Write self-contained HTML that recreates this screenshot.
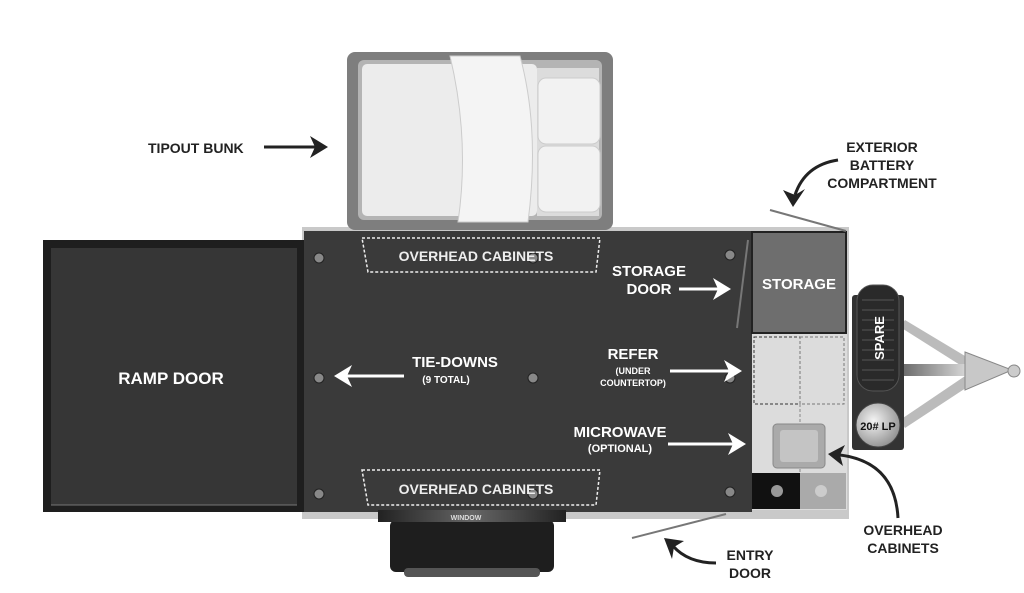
<!DOCTYPE html>
<html><head><meta charset="utf-8"><style>
html,body{margin:0;padding:0;background:#fff;width:1024px;height:593px;overflow:hidden}
svg{display:block}
text{font-family:"Liberation Sans",Arial,sans-serif;font-weight:bold}
</style></head><body>
<svg width="1024" height="593" viewBox="0 0 1024 593" xmlns="http://www.w3.org/2000/svg">
<defs>
<linearGradient id="tongue" x1="0" y1="0" x2="1" y2="0"><stop offset="0" stop-color="#666"/><stop offset="1" stop-color="#ddd"/></linearGradient>
<radialGradient id="lp" cx="0.4" cy="0.4" r="0.7"><stop offset="0" stop-color="#f4f4f4"/><stop offset="1" stop-color="#888"/></radialGradient>
<linearGradient id="win" x1="0" y1="0" x2="1" y2="0"><stop offset="0" stop-color="#222"/><stop offset="0.5" stop-color="#666"/><stop offset="1" stop-color="#222"/></linearGradient>
</defs>

<!-- tongue -->
<polygon points="900,327 905,320 975,362 968,370" fill="#bbb"/>
<polygon points="900,420 905,428 975,382 968,374" fill="#bbb"/>
<rect x="900" y="364" width="70" height="12" fill="url(#tongue)"/>
<polygon points="965,352 1012,370 965,390" fill="#c8c8c8" stroke="#888"/>
<circle cx="1014" cy="371" r="6" fill="#ccc" stroke="#888"/>

<!-- spare/LP frame -->
<rect x="852" y="295" width="52" height="155" rx="3" fill="#333"/>
<rect x="857" y="285" width="42" height="106" rx="16" fill="#2a2a2a" stroke="#555"/>
<g stroke="#555" stroke-width="1">
<line x1="862" y1="300" x2="894" y2="300"/><line x1="862" y1="310" x2="894" y2="310"/><line x1="862" y1="320" x2="894" y2="320"/><line x1="862" y1="330" x2="894" y2="330"/><line x1="862" y1="340" x2="894" y2="340"/><line x1="862" y1="350" x2="894" y2="350"/><line x1="862" y1="360" x2="894" y2="360"/><line x1="862" y1="370" x2="894" y2="370"/><line x1="862" y1="380" x2="894" y2="380"/>
</g>
<text x="884" y="338" fill="#fff" font-size="13" text-anchor="middle" transform="rotate(-90 884 338)">SPARE</text>
<circle cx="878" cy="425" r="22" fill="url(#lp)" stroke="#444"/>
<text x="878" y="430" fill="#111" font-size="11" text-anchor="middle">20# LP</text>

<!-- wheel bottom -->
<rect x="390" y="520" width="164" height="52" rx="6" fill="#1e1e1e"/>
<rect x="404" y="568" width="136" height="9" rx="4" fill="#555"/>

<!-- body frame -->
<rect x="302" y="227" width="547" height="292" fill="#c9c9c9"/>
<rect x="304" y="231" width="448" height="281" fill="#3a3a3a"/>
<rect x="378" y="510" width="188" height="12" fill="url(#win)"/>
<text x="466" y="520" fill="#ddd" font-size="7" text-anchor="middle">WINDOW</text>
<!-- ramp -->
<rect x="43" y="240" width="261" height="272" fill="#1e1e1e"/>
<rect x="51" y="248" width="246" height="257" fill="#363636"/>
<line x1="51" y1="505" x2="297" y2="505" stroke="#777" stroke-width="1"/>

<!-- bunk -->
<rect x="347" y="52" width="266" height="178" rx="8" fill="#7e7e7e"/>
<rect x="358" y="60" width="244" height="160" rx="6" fill="#b4b4b4"/>
<rect x="362" y="64" width="175" height="152" rx="5" fill="#ececec"/>
<rect x="537" y="68" width="62" height="148" fill="#dcdcdc"/>
<path d="M450,56 L520,56 Q540,130 528,222 L458,222 Q470,140 450,56Z" fill="#f4f4f4" stroke="#ccc"/>
<rect x="538" y="78" width="62" height="66" rx="8" fill="#f2f2f2" stroke="#ccc"/>
<rect x="538" y="146" width="62" height="66" rx="8" fill="#f2f2f2" stroke="#ccc"/>

<!-- tie-down dots -->
<g fill="#888" stroke="#222">
<circle cx="319" cy="258" r="5"/><circle cx="319" cy="378" r="5"/><circle cx="319" cy="494" r="5"/>
<circle cx="533" cy="258" r="5"/><circle cx="533" cy="378" r="5"/><circle cx="533" cy="494" r="5"/>
<circle cx="730" cy="255" r="5"/><circle cx="730" cy="378" r="5"/><circle cx="730" cy="492" r="5"/>
</g>

<!-- overhead cabinets -->
<polygon points="362,238 600,238 596,272 368,272" fill="none" stroke="#eee" stroke-width="1.5" stroke-dasharray="3,2"/>
<text x="476" y="261" fill="#eee" font-size="14" text-anchor="middle">OVERHEAD CABINETS</text>
<polygon points="362,470 600,470 596,505 368,505" fill="none" stroke="#eee" stroke-width="1.5" stroke-dasharray="3,2"/>
<text x="476" y="494" fill="#eee" font-size="14" text-anchor="middle">OVERHEAD CABINETS</text>

<!-- storage -->
<rect x="752" y="232" width="94" height="101" fill="#6e6e6e" stroke="#222" stroke-width="2"/>
<text x="799" y="289" fill="#fff" font-size="15" text-anchor="middle">STORAGE</text>
<line x1="748" y1="240" x2="737" y2="328" stroke="#777" stroke-width="2"/>
<!-- kitchen -->
<rect x="752" y="334" width="95" height="176" fill="#dcdcdc"/>
<rect x="754" y="337" width="46" height="67" fill="none" stroke="#333" stroke-dasharray="3,2"/>
<rect x="800" y="337" width="44" height="67" fill="none" stroke="#777" stroke-dasharray="3,2"/>
<line x1="800" y1="404" x2="800" y2="508" stroke="#888" stroke-dasharray="3,2"/>
<rect x="773" y="424" width="52" height="44" rx="4" fill="#aaa" stroke="#888"/>
<rect x="780" y="430" width="38" height="32" rx="3" fill="#c4c4c4"/>
<rect x="752" y="473" width="48" height="36" fill="#111"/>
<rect x="800" y="473" width="46" height="36" fill="#aaa"/>
<circle cx="777" cy="491" r="6" fill="#999"/><circle cx="821" cy="491" r="6" fill="#ccc"/>

<!-- door lines -->
<line x1="770" y1="210" x2="846" y2="231" stroke="#777" stroke-width="2"/>
<line x1="632" y1="538" x2="726" y2="514" stroke="#777" stroke-width="2"/>

<!-- labels -->
<text x="148" y="153" fill="#222" font-size="14">TIPOUT BUNK</text>
<line x1="264" y1="147" x2="316" y2="147" stroke="#222" stroke-width="3"/>
<path d="M328,147 L310,136 L315,147 L310,158Z" fill="#222"/>
<text x="171" y="384" fill="#fff" font-size="17" text-anchor="middle">RAMP DOOR</text>

<text x="455" y="367" fill="#fff" font-size="15" text-anchor="middle">TIE-DOWNS</text>
<text x="446" y="383" fill="#fff" font-size="10" text-anchor="middle">(9 TOTAL)</text>
<line x1="404" y1="376" x2="342" y2="376" stroke="#fff" stroke-width="3"/>
<path d="M334,376 L352,365 L347,376 L352,387Z" fill="#fff"/>

<text x="649" y="276" fill="#fff" font-size="15" text-anchor="middle">STORAGE</text>
<text x="649" y="294" fill="#fff" font-size="15" text-anchor="middle">DOOR</text>
<line x1="679" y1="289" x2="722" y2="289" stroke="#fff" stroke-width="3"/>
<path d="M731,289 L713,278 L718,289 L713,300Z" fill="#fff"/>

<text x="633" y="359" fill="#fff" font-size="15" text-anchor="middle">REFER</text>
<text x="633" y="374" fill="#fff" font-size="9" text-anchor="middle">(UNDER</text>
<text x="633" y="386" fill="#fff" font-size="9" text-anchor="middle">COUNTERTOP)</text>
<line x1="670" y1="371" x2="732" y2="371" stroke="#fff" stroke-width="3"/>
<path d="M742,371 L724,360 L729,371 L724,382Z" fill="#fff"/>

<text x="620" y="437" fill="#fff" font-size="15" text-anchor="middle">MICROWAVE</text>
<text x="620" y="452" fill="#fff" font-size="11" text-anchor="middle">(OPTIONAL)</text>
<line x1="668" y1="444" x2="736" y2="444" stroke="#fff" stroke-width="3"/>
<path d="M746,444 L728,433 L733,444 L728,455Z" fill="#fff"/>

<text x="882" y="152" fill="#222" font-size="14" text-anchor="middle">EXTERIOR</text>
<text x="882" y="170" fill="#222" font-size="14" text-anchor="middle">BATTERY</text>
<text x="882" y="188" fill="#222" font-size="14" text-anchor="middle">COMPARTMENT</text>
<path d="M838,160 Q805,165 795,195" fill="none" stroke="#222" stroke-width="3"/>
<path d="M793,207 L783,190 L795,195 L805,189Z" fill="#222"/>

<text x="903" y="535" fill="#222" font-size="14" text-anchor="middle">OVERHEAD</text>
<text x="903" y="553" fill="#222" font-size="14" text-anchor="middle">CABINETS</text>
<path d="M898,518 Q895,462 840,455" fill="none" stroke="#222" stroke-width="3"/>
<path d="M828,454 L845,445 L840,455 L843,466Z" fill="#222"/>

<text x="750" y="560" fill="#222" font-size="14" text-anchor="middle">ENTRY</text>
<text x="750" y="578" fill="#222" font-size="14" text-anchor="middle">DOOR</text>
<path d="M716,563 Q688,563 673,546" fill="none" stroke="#222" stroke-width="3"/>
<path d="M664,538 L684,541 L674,547 L672,559Z" fill="#222"/>
</svg>
</body></html>
